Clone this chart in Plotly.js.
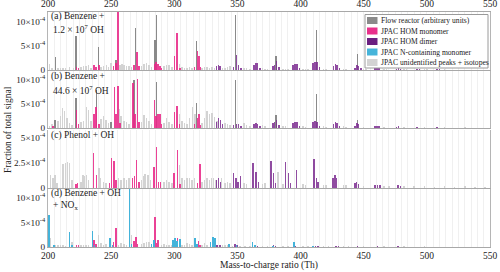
<!DOCTYPE html>
<html><head><meta charset="utf-8">
<script src="https://cdn.plot.ly/plotly-3.0.1.min.js"></script>
<style>body{margin:0;background:#fff}#c{width:500px;height:272px}</style>
</head><body><div id="c"></div>
<script>
// values in units of 1e-4 (fraction of total signal)
const seriesNames = ["Flow reactor (arbitrary units)", "JPAC HOM monomer", "JPAC HOM dimer", "JPAC N-containing monomer", "JPAC unidentified peaks + isotopes"];
const panelLabels1 = ["(a) Benzene +", "(b) Benzene +", "(c) Phenol + OH", "(d) Benzene + OH"];
const panelLabels2 = ["1.2 × 10<sup>7</sup> OH", "44.6 × 10<sup>7</sup> OH", "", "+ NO<sub>x</sub>"];
const xTickLabels = ["200", "250", "300", "350", "400", "450", "500", "550"];
const yTickLabelsA = ["0", "5×10<sup>-4</sup>", "10×10<sup>-4</sup>"];
const yTickLabelsC = ["0", "2.5×10<sup>-4</sup>", "5×10<sup>-4</sup>"];
const xTitle = "Mass-to-charge ratio (Th)";
const yTitle = "Fraction of total signal";

// Panel (a)
const aFlowX = [206, 222, 240, 254, 269.4, 284.7, 286, 317.7, 348.6, 380.5, 412.7, 444.9];
const aFlowY = [2.8, 7.0, 4.8, 2.0, 8.6, 6.3, 11.4, 6.1, 11.4, 3.0, 8.2, 3.4];
const aMonoX = [222.5, 224, 236.5, 238, 240.3, 252, 254, 255.4, 268, 270.3, 272, 284.2, 285.5, 287, 288.5, 290, 300.2, 302.3, 304.5, 316, 318.4, 319.6, 320.7];
const aMonoY = [0.6, 0.4, 1.0, 0.6, 1.0, 0.8, 1.4, 12.5, 1.0, 3.8, 0.8, 1.2, 1.6, 1.3, 0.8, 0.4, 2.9, 7.6, 0.5, 0.7, 4.0, 3.0, 0.7];
const aDimX = [333.5, 335, 336.3, 347, 349.4, 351, 353, 363, 364.5, 366, 368, 378, 379.5, 381, 383, 394, 395.5, 397, 399, 410, 411.5, 413, 415, 426, 427.5, 429, 431, 443, 444.5, 446, 448, 459, 460.5, 462, 476, 477.5, 479, 492, 494, 508, 510];
const aDimY = [0.8, 1.0, 0.8, 0.6, 3.1, 1.0, 0.5, 1.0, 1.4, 1.4, 0.5, 0.9, 1.0, 1.8, 0.6, 1.0, 1.2, 1.3, 0.5, 1.4, 1.7, 1.6, 0.6, 0.8, 1.2, 1.0, 0.4, 0.5, 1.1, 0.9, 0.4, 0.4, 0.5, 0.4, 0.3, 0.5, 0.3, 0.2, 0.2, 0.15, 0.15];
const aUnX = [201, 203, 208, 210, 212, 214, 217, 220, 226, 228, 230, 232, 234, 242, 244, 246.5, 248, 250, 257, 258.5, 260, 262, 264, 266, 274, 276, 278, 280, 282, 292, 294, 296, 298, 304, 306, 308, 310, 312, 314, 322, 324, 326, 328, 330, 332, 338, 340, 342, 344, 355, 357, 360, 370, 372, 374, 386, 388, 390, 402, 404, 406, 418, 420, 434, 436, 450, 452, 466, 468, 482, 484, 498, 500, 514, 516, 530, 532, 546];
const aUnY = [1.2, 0.5, 0.4, 0.5, 0.4, 0.4, 0.7, 0.4, 0.6, 0.8, 0.8, 1.0, 0.5, 0.6, 0.8, 1.0, 0.6, 1.4, 1.0, 1.2, 1.0, 0.8, 0.8, 0.6, 0.8, 1.2, 1.5, 1.0, 0.6, 0.8, 1.0, 1.0, 0.6, 1.2, 0.6, 0.5, 0.5, 0.6, 0.5, 0.5, 0.6, 0.6, 0.5, 0.6, 0.5, 0.4, 0.5, 0.6, 0.9, 0.5, 0.4, 0.3, 0.4, 0.3, 0.3, 0.3, 0.3, 0.3, 0.3, 0.3, 0.2, 0.2, 0.2, 0.2, 0.2, 0.2, 0.2, 0.15, 0.15, 0.15, 0.15, 0.15, 0.15, 0.15, 0.1, 0.1, 0.1, 0.1];

// Panel (b)
const bFlowX = [205.5, 222, 238.5, 250, 268, 286, 317.7, 348.6, 380.5, 412.7, 444.9];
const bFlowY = [1.7, 6.2, 8.0, 1.3, 10.0, 9.6, 5.3, 10.0, 2.7, 7.2, 1.7];
const bMonoX = [204, 222.5, 224, 236.5, 238, 240.3, 252.5, 254, 255.5, 257, 267.5, 269, 270.7, 272, 284.5, 285.5, 287.3, 288.7, 290, 300.2, 302.3, 304, 316, 318.5, 319.6, 320.7];
const bMonoY = [0.5, 3.7, 0.8, 2.9, 4.4, 0.8, 8.6, 3.0, 8.7, 1.0, 9.4, 3.0, 10.3, 1.2, 5.8, 2.5, 3.0, 3.0, 0.8, 3.4, 4.6, 0.8, 0.8, 2.1, 3.0, 0.7];
const bDimX = [333.5, 335, 336.5, 338, 347, 349.4, 351, 353, 363, 364.5, 366, 368, 378, 379.5, 381, 383, 394, 395.5, 397, 399, 410, 411.5, 413, 415, 426, 427.5, 429, 431, 443, 444.5, 446, 459, 460.5, 462, 476, 477.5, 492, 508];
const bDimY = [1.2, 2.0, 1.6, 0.8, 0.6, 0.9, 0.8, 0.5, 0.8, 1.0, 0.9, 0.5, 1.0, 1.2, 1.6, 0.6, 1.0, 1.3, 1.2, 0.5, 1.2, 1.5, 1.3, 0.5, 0.8, 1.3, 1.0, 0.4, 0.5, 1.0, 0.8, 0.4, 0.5, 0.4, 0.3, 0.4, 0.2, 0.15];
const bUnX = [201, 203, 208, 210, 211.5, 213, 215, 217, 219, 226, 228, 230.6, 232, 234, 242, 244, 246, 248, 256.8, 258, 260, 262, 264, 274, 276, 278, 280, 282, 292, 294, 296, 298, 304, 306, 308, 310, 312, 314.5, 316.4, 322, 324, 326, 328, 330, 332, 334, 340, 342, 344, 355, 357, 360, 370, 372, 386, 388, 402, 404, 418, 420, 434, 436, 450, 466, 482, 498, 514, 530];
const bUnY = [0.5, 0.8, 1.5, 2.5, 4.2, 3.5, 2.0, 1.0, 0.6, 1.2, 1.5, 4.4, 3.8, 1.5, 1.8, 2.5, 1.6, 1.0, 4.0, 2.5, 1.5, 1.2, 0.8, 1.2, 2.8, 2.0, 1.5, 0.8, 1.0, 2.0, 1.2, 0.8, 3.0, 1.5, 1.0, 0.8, 2.0, 4.4, 3.0, 1.0, 2.0, 3.5, 3.0, 3.2, 2.3, 1.5, 1.0, 0.8, 0.6, 1.0, 0.6, 0.5, 0.6, 0.4, 0.5, 0.4, 0.5, 0.3, 0.4, 0.3, 0.4, 0.3, 0.3, 0.3, 0.2, 0.2, 0.2, 0.2];

// Panel (c)
const cMonoX = [222, 223.5, 236.2, 238.5, 248.6, 250.4, 252.3, 254, 267, 268.5, 270.2, 272, 284, 286, 287.5, 289, 299.8, 302.4, 304.5, 318.5, 320.3];
const cMonoY = [0.4, 0.5, 3.5, 1.3, 0.5, 3.0, 2.7, 0.8, 1.0, 1.2, 2.8, 0.6, 2.1, 4.1, 0.6, 0.6, 1.5, 3.8, 0.4, 0.5, 2.4];
const cDimX = [333.5, 335, 336.5, 346.7, 348.9, 350.5, 352.6, 362.5, 364.7, 366.5, 376.5, 378.4, 380, 388, 390.3, 392, 396.9, 410.6, 412.5, 414, 425.7, 427.2, 428.6, 443, 444.4, 446, 459, 461, 463, 477, 479];
const cDimY = [0.8, 1.0, 0.6, 1.5, 1.0, 0.6, 1.2, 2.5, 1.6, 0.6, 2.7, 1.5, 0.5, 2.6, 1.5, 0.5, 1.8, 2.9, 1.0, 0.6, 1.0, 1.3, 1.0, 0.5, 0.6, 0.4, 0.3, 0.3, 0.3, 0.3, 0.2];
const cUnX = [202.1, 204, 205.5, 207, 212, 214, 215.5, 217, 219, 226, 227.7, 229, 230.6, 232, 240.5, 241.7, 244, 246, 256, 258, 260, 262, 264, 274, 276, 277, 279, 281, 292, 294, 296, 298, 304, 306, 308, 310, 312, 314, 316, 322, 324, 326, 328, 329.6, 331, 333, 337.5, 340, 342, 344, 355, 357, 370, 372, 382.3, 386, 402, 404, 418, 420, 434, 436, 450, 466, 470, 482, 490, 498, 506, 514, 522, 530, 538, 546];
const cUnY = [1.3, 1.0, 1.3, 0.5, 2.4, 2.5, 2.6, 2.5, 0.8, 0.6, 1.3, 1.2, 1.3, 0.8, 2.0, 1.0, 0.6, 0.5, 1.0, 0.8, 1.0, 0.8, 1.0, 0.8, 1.2, 1.4, 1.3, 0.8, 0.6, 0.8, 0.6, 0.5, 2.3, 1.0, 0.8, 1.0, 1.0, 0.8, 1.0, 0.6, 0.8, 1.0, 0.8, 1.0, 1.0, 0.8, 1.0, 0.5, 0.6, 0.5, 0.5, 0.4, 0.4, 0.5, 1.6, 0.4, 0.4, 0.3, 0.3, 0.3, 0.3, 0.3, 0.2, 0.2, 0.2, 0.2, 0.2, 0.2, 0.15, 0.2, 0.15, 0.2, 0.15, 0.15];

// Panel (d)
const dNX = [200.8, 204.8, 216.9, 219, 235.4, 237, 249.1, 251, 264.4, 266, 282, 283.9, 299, 300.5, 302, 304.5, 316.4, 318, 328.8, 330.6, 332.2, 343.3, 349.4, 362, 364, 378, 394.8, 410];
const dNY = [6.5, 0.5, 3.1, 0.5, 3.3, 0.5, 1.9, 0.4, 13, 0.6, 0.6, 1.4, 1.5, 1.8, 1.2, 1.6, 1.8, 0.6, 1.0, 2.0, 1.8, 0.6, 0.4, 1.1, 0.4, 0.3, 1.0, 0.3];
const dMonoX = [222.5, 224, 236.4, 238, 251.7, 253.8, 268.1, 269.7, 271, 284.7, 286, 287.3, 302.4, 304, 319, 320.5];
const dMonoY = [0.5, 0.5, 1.4, 0.6, 1.0, 3.9, 1.2, 2.1, 0.6, 6.0, 0.8, 1.4, 1.8, 0.5, 1.3, 0.5];
const dDimX = [334, 336, 348, 350, 363.9, 366, 378.4, 380, 396, 412, 414, 428, 430, 445, 461, 477];
const dDimY = [0.4, 0.5, 0.6, 0.4, 0.5, 0.3, 0.4, 0.3, 0.3, 0.3, 0.3, 0.3, 0.2, 0.2, 0.2, 0.2];
const dUnX = [202, 206, 208, 210, 212, 214, 218.8, 226, 228, 230, 232, 239.8, 242, 244, 246, 256, 258, 260, 262, 266.3, 274, 276, 278, 280, 282, 290, 292, 294, 296, 298, 306, 308, 310, 312, 314, 322, 324, 326, 334, 338, 340, 342, 346, 352, 356, 360, 370, 374, 386, 390, 402, 406, 418, 422, 434, 438, 450, 466, 482, 498];
const dUnY = [1.8, 0.4, 0.5, 0.5, 0.4, 0.3, 1.0, 0.5, 0.4, 0.5, 0.4, 2.4, 0.8, 0.5, 0.6, 0.5, 0.8, 0.6, 0.5, 2.4, 0.6, 0.8, 1.0, 1.0, 0.6, 0.5, 0.6, 0.5, 0.5, 0.4, 0.5, 0.5, 0.8, 0.6, 0.5, 0.5, 0.8, 0.5, 0.5, 0.4, 0.5, 0.4, 0.3, 0.3, 0.3, 0.3, 0.3, 0.3, 0.3, 0.3, 0.3, 0.2, 0.2, 0.2, 0.2, 0.2, 0.2, 0.2, 0.2, 0.2];

// ---------- styling ----------
const COL = {flow: 'rgba(125,125,125,0.9)', mono: 'rgba(232,40,135,0.88)', dim: 'rgba(125,45,145,0.85)', ncon: '#43b3da', un: '#d3d3d3'};
const SW = ['#8a8a8a', '#e8308b', '#6a1f80', '#46b4da', '#d3d3d3'];
const FONT = 'Liberation Serif';
const BW = 1.2;

function bars(x, y, color, ax) {
  return {type: 'bar', x: x, y: y, width: BW, xaxis: 'x' + ax, yaxis: 'y' + ax,
          marker: {color: color, line: {width: 0}}, showlegend: false, hoverinfo: 'skip'};
}
const traces = [];
const panels = [
  {ax: '', un: [aUnX, aUnY], flow: [aFlowX, aFlowY], mono: [aMonoX, aMonoY], dim: [aDimX, aDimY]},
  {ax: '2', un: [bUnX, bUnY], flow: [bFlowX, bFlowY], mono: [bMonoX, bMonoY], dim: [bDimX, bDimY]},
  {ax: '3', un: [cUnX, cUnY], mono: [cMonoX, cMonoY], dim: [cDimX, cDimY]},
  {ax: '4', un: [dUnX, dUnY], mono: [dMonoX, dMonoY], dim: [dDimX, dDimY], ncon: [dNX, dNY]}
];
panels.forEach(p => {
  if (p.un) traces.push(bars(p.un[0], p.un[1], COL.un, p.ax));
  if (p.flow) traces.push(bars(p.flow[0], p.flow[1], COL.flow, p.ax));
  if (p.mono) traces.push(bars(p.mono[0], p.mono[1], COL.mono, p.ax));
  if (p.dim) traces.push(bars(p.dim[0], p.dim[1], COL.dim, p.ax));
  if (p.ncon) traces.push(bars(p.ncon[0], p.ncon[1], COL.ncon, p.ax));
});

const gridVals = [], gridText = [];
for (let v = 200; v <= 550; v += 5) {
  gridVals.push(v);
  const i = xTickLabels.indexOf(String(v));
  gridText.push(i >= 0 ? xTickLabels[i] : '');
}
function xax(extra) {
  return Object.assign({range: [200, 550], tickmode: 'array', tickvals: gridVals, ticktext: gridText,
    showgrid: true, gridcolor: '#f0f0f0', gridwidth: 1, zeroline: false, showline: true,
    linecolor: '#a8a8a8', linewidth: 1, ticks: '', tickfont: {family: FONT, size: 9.5, color: '#222'}}, extra);
}
function yax(dom, rng, vals, txt) {
  return {domain: dom, range: rng, tickmode: 'array', tickvals: vals, ticktext: txt, showgrid: false,
    zeroline: false, showline: true, mirror: true, linecolor: '#b5b5b5', linewidth: 1, ticks: '',
    tickfont: {family: FONT, size: 9.2, color: '#222'}, fixedrange: true};
}
const PX = px => (px - 48) / 442, PY = py => (247 - py) / 235;

const layout = {
  width: 500, height: 272, margin: {l: 48, r: 10, t: 12, b: 25},
  paper_bgcolor: '#fff', plot_bgcolor: '#fff', barmode: 'overlay', bargap: 0,
  font: {family: FONT, size: 9.5, color: '#222'},
  xaxis: xax({anchor: 'y', side: 'top', mirror: true}),
  xaxis2: xax({anchor: 'y2', showticklabels: false}),
  xaxis3: xax({anchor: 'y3', showticklabels: false}),
  xaxis4: xax({anchor: 'y4'}),
  yaxis: yax([0.753, 1], [0, 12], [0, 5, 10], yTickLabelsA),
  yaxis2: yax([0.506, 0.749], [0, 11.9], [0, 5, 10], yTickLabelsA),
  yaxis3: yax([0.251, 0.498], [0, 5.8], [0, 2.5, 5], yTickLabelsC),
  yaxis4: yax([0, 0.247], [0, 11.8], [0, 5, 10], yTickLabelsA),
  shapes: [], annotations: []
};
// panel labels
const lab1Y = [16.5, 77, 135, 193], lab2Y = [29, 89.5, 0, 205];
panelLabels1.forEach((t, i) => {
  layout.annotations.push({xref: 'paper', yref: 'paper', x: PX(49), y: PY(lab1Y[i]), xanchor: 'left', yanchor: 'middle',
    text: t, showarrow: false, font: {family: FONT, size: 9.5, color: '#222'}});
  if (panelLabels2[i]) layout.annotations.push({xref: 'paper', yref: 'paper', x: PX(51), y: PY(lab2Y[i]), xanchor: 'left', yanchor: 'middle',
    text: panelLabels2[i], showarrow: false, font: {family: FONT, size: 9.5, color: '#222'}});
});
// axis titles
layout.annotations.push({xref: 'paper', yref: 'paper', x: PX(269), y: PY(265), xanchor: 'center', yanchor: 'middle',
  text: xTitle, showarrow: false, font: {family: FONT, size: 9.5, color: '#222'}});
layout.annotations.push({xref: 'paper', yref: 'paper', x: PX(8), y: PY(130), xanchor: 'center', yanchor: 'middle',
  text: yTitle, textangle: -90, showarrow: false, font: {family: FONT, size: 9.5, color: '#222'}});
// legend (manual, compact)
layout.shapes.push({type: 'rect', xref: 'paper', yref: 'paper', x0: PX(365), x1: PX(488), y0: PY(14.5), y1: PY(68),
  line: {color: '#9a9a9a', width: 1}, fillcolor: '#fff', layer: 'above'});
const legY = [20.5, 31, 41.5, 52, 62.5];
seriesNames.forEach((n, i) => {
  layout.shapes.push({type: 'rect', xref: 'paper', yref: 'paper', x0: PX(367), x1: PX(377.5), y0: PY(legY[i] + 3.5), y1: PY(legY[i] - 3.5),
    line: {width: 0}, fillcolor: SW[i], layer: 'above'});
  layout.annotations.push({xref: 'paper', yref: 'paper', x: PX(378.5), y: PY(legY[i]), xanchor: 'left', yanchor: 'middle',
    text: n, showarrow: false, font: {family: FONT, size: 7.6, color: '#222'}});
});
Plotly.newPlot('c', traces, layout, {staticPlot: true, displayModeBar: false});
</script></body></html>
